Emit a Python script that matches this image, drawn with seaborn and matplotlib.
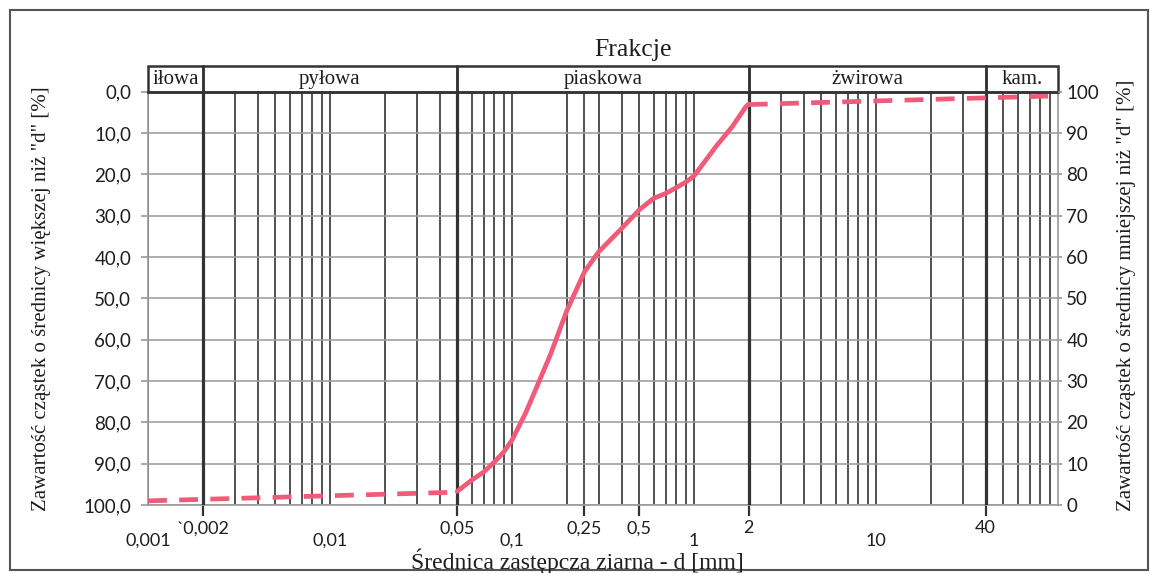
import numpy as np
import pandas as pd
import matplotlib
matplotlib.use("Agg")
import matplotlib.pyplot as plt
import matplotlib.transforms as mtransforms
from matplotlib.patches import Rectangle
from matplotlib.ticker import FixedLocator, FixedFormatter
import seaborn as sns

# ---------------- data ----------------
fine_d = [0.001, 0.05]
fine_pass = [1.0, 3.1]

sieve_d = [0.05, 0.06, 0.07, 0.08, 0.09, 0.10, 0.1186, 0.1345, 0.163, 0.20,
           0.25, 0.30, 0.40, 0.50, 0.60, 0.70, 0.80, 0.90, 1.00, 1.318, 1.62,
           1.93, 2.0]
sieve_pass = [3.3, 6.0, 8.0, 10.4, 12.8, 15.7, 22.2, 27.8, 36.5, 47.0,
              56.4, 61.3, 66.9, 71.4, 74.2, 75.4, 76.8, 78.1, 79.6, 86.7, 91.5,
              96.4, 97.0]

coarse_d = [2.0, 100.0]
coarse_pass = [96.9, 99.0]

fraction_names = ["iłowa", "pyłowa", "piaskowa", "żwirowa", "kam."]
fraction_bounds = [0.001, 0.002, 0.05, 2, 40, 100]

major_ticks = [0.002, 0.05, 0.25, 0.5, 2, 40]
major_labels = ["`0,002", "0,05", "0,25", "0,5", "2", "40"]
decade_ticks = [0.001, 0.01, 0.1, 1, 10]
decade_labels = ["0,001", "0,01", "0,1", "1", "10"]

y_ticks = [0, 10, 20, 30, 40, 50, 60, 70, 80, 90, 100]
left_labels = ["100,0", "90,0", "80,0", "70,0", "60,0", "50,0",
               "40,0", "30,0", "20,0", "10,0", "0,0"]
right_labels = ["0", "10", "20", "30", "40", "50", "60", "70", "80", "90", "100"]

title_text = "Frakcje"
xlabel_text = "Średnica zastępcza ziarna - d [mm]"
ylabel_left = "Zawartość cząstek o średnicy większej niż \"d\" [%]"
ylabel_right = "Zawartość cząstek o średnicy mniejszej niż \"d\" [%]"

# ---------------- style ----------------
sns.set_style("white")
plt.rcParams["font.family"] = ["Lato", "DejaVu Sans"]
SERIF = ["Liberation Serif", "DejaVu Serif"]
CURVE = "#EF5B78"
DARK = "#333333"
TXT = "#1e1e1e"

W, H = 1150, 573
fig = plt.figure(figsize=(W / 100, H / 100), dpi=100)
fig.patch.set_facecolor("white")

L, R, T, B = 148, 1058, 91.7, 505
ax = fig.add_axes([L / W, 1 - B / H, (R - L) / W, (B - T) / H])

df = pd.concat([
    pd.DataFrame({"d": fine_d, "p": fine_pass, "seg": "a", "kind": "ext"}),
    pd.DataFrame({"d": sieve_d, "p": sieve_pass, "seg": "b", "kind": "meas"}),
    pd.DataFrame({"d": coarse_d, "p": coarse_pass, "seg": "c", "kind": "ext"}),
], ignore_index=True)

sns.lineplot(data=df, x="d", y="p", units="seg", style="kind", estimator=None,
             dashes={"meas": "", "ext": (4, 2.6)}, color=CURVE, lw=3.4,
             legend=False, ax=ax, zorder=5)
for ln in ax.lines:
    ln.set_solid_joinstyle("round")
    ln.set_solid_capstyle("round")

ax.set_xscale("log")
ax.set_xlim(0.001, 100)
ax.set_ylim(0, 100)
ax.set_xlabel("")
ax.set_ylabel("")

# x ticks
minor = [0.001]
minor_labels = ["0,001"]
for e in range(-3, 2):
    for n in range(1, 10):
        v = round(n * 10.0 ** e, 6)
        if v not in major_ticks and v > 0.001:
            minor.append(v)
            minor_labels.append(decade_labels[decade_ticks.index(v)] if v in decade_ticks else "")
ax.xaxis.set_major_locator(FixedLocator(major_ticks))
ax.xaxis.set_major_formatter(FixedFormatter(major_labels))
ax.xaxis.set_minor_locator(FixedLocator(minor))
ax.xaxis.set_minor_formatter(FixedFormatter(minor_labels))
ax.tick_params(axis="x", which="major", length=8, width=1.6, color=DARK,
               labelsize=13, labelcolor=TXT, pad=3, direction="out", bottom=True)
ax.tick_params(axis="x", which="minor", length=0, labelsize=13, labelcolor=TXT,
               pad=20, bottom=True)

# y ticks
ax.set_yticks(y_ticks)
ax.set_yticklabels(left_labels)
ax.tick_params(axis="y", length=5, width=1.2, color="#9a9a9a", labelsize=13.5,
               labelcolor=TXT, pad=7, left=True)

# grids
ax.grid(which="major", axis="x", color=DARK, lw=1.2)
ax.grid(which="minor", axis="x", color=DARK, lw=1.2)
ax.grid(which="major", axis="y", color="#a0a0a0", lw=1.2)
for b in fraction_bounds[1:-1]:
    ax.axvline(b, color=DARK, lw=2.3, zorder=3)

for s in ["left", "right", "bottom"]:
    ax.spines[s].set_color("#9a9a9a")
    ax.spines[s].set_linewidth(1.2)
ax.spines["top"].set_color(DARK)
ax.spines["top"].set_linewidth(1.8)

# right axis
ax2 = ax.twinx()
ax2.set_ylim(0, 100)
ax2.set_yticks(y_ticks)
ax2.set_yticklabels(right_labels)
ax2.tick_params(axis="y", length=3, width=1.2, color="#9a9a9a", labelsize=13.5,
                labelcolor=TXT, pad=3)
for s in ax2.spines.values():
    s.set_visible(False)
ax2.grid(False)

# header with fractions
hh = 26 / (B - T)
trans = mtransforms.blended_transform_factory(ax.transData, ax.transAxes)
for name, b0, b1 in zip(fraction_names, fraction_bounds[:-1], fraction_bounds[1:]):
    ax.add_patch(Rectangle((b0, 1.0), b1 - b0, hh, transform=trans, fill=False,
                           ec=DARK, lw=1.8, clip_on=False, zorder=6))
    ax.text(np.sqrt(b0 * b1), 1.0 + hh * 0.48, name, transform=trans, ha="center",
            va="center", fontsize=15, family=SERIF, color=TXT, clip_on=False)

# texts
fig.text(633 / W, 1 - 50 / H, title_text, ha="center", va="center",
         fontsize=18.5, family=SERIF, color=TXT)
fig.text(577 / W, 1 - 568.5 / H, xlabel_text, ha="center", va="baseline",
         fontsize=17, family=SERIF, color=TXT)
fig.text(42 / W, 1 - 299 / H, ylabel_left, ha="center", va="center",
         rotation=90, fontsize=15, family=SERIF, color=TXT)
fig.text(1126 / W, 1 - 295 / H, ylabel_right, ha="center", va="center",
         rotation=90, fontsize=15, family=SERIF, color=TXT)

# outer frame
fig.patches.append(Rectangle((10 / W, 1 - 570 / H), (1148 - 10) / W, (570 - 10) / H,
                             transform=fig.transFigure, fill=False, ec="#555555",
                             lw=1.5))

fig.savefig("out.png", dpi=100, facecolor="white")
